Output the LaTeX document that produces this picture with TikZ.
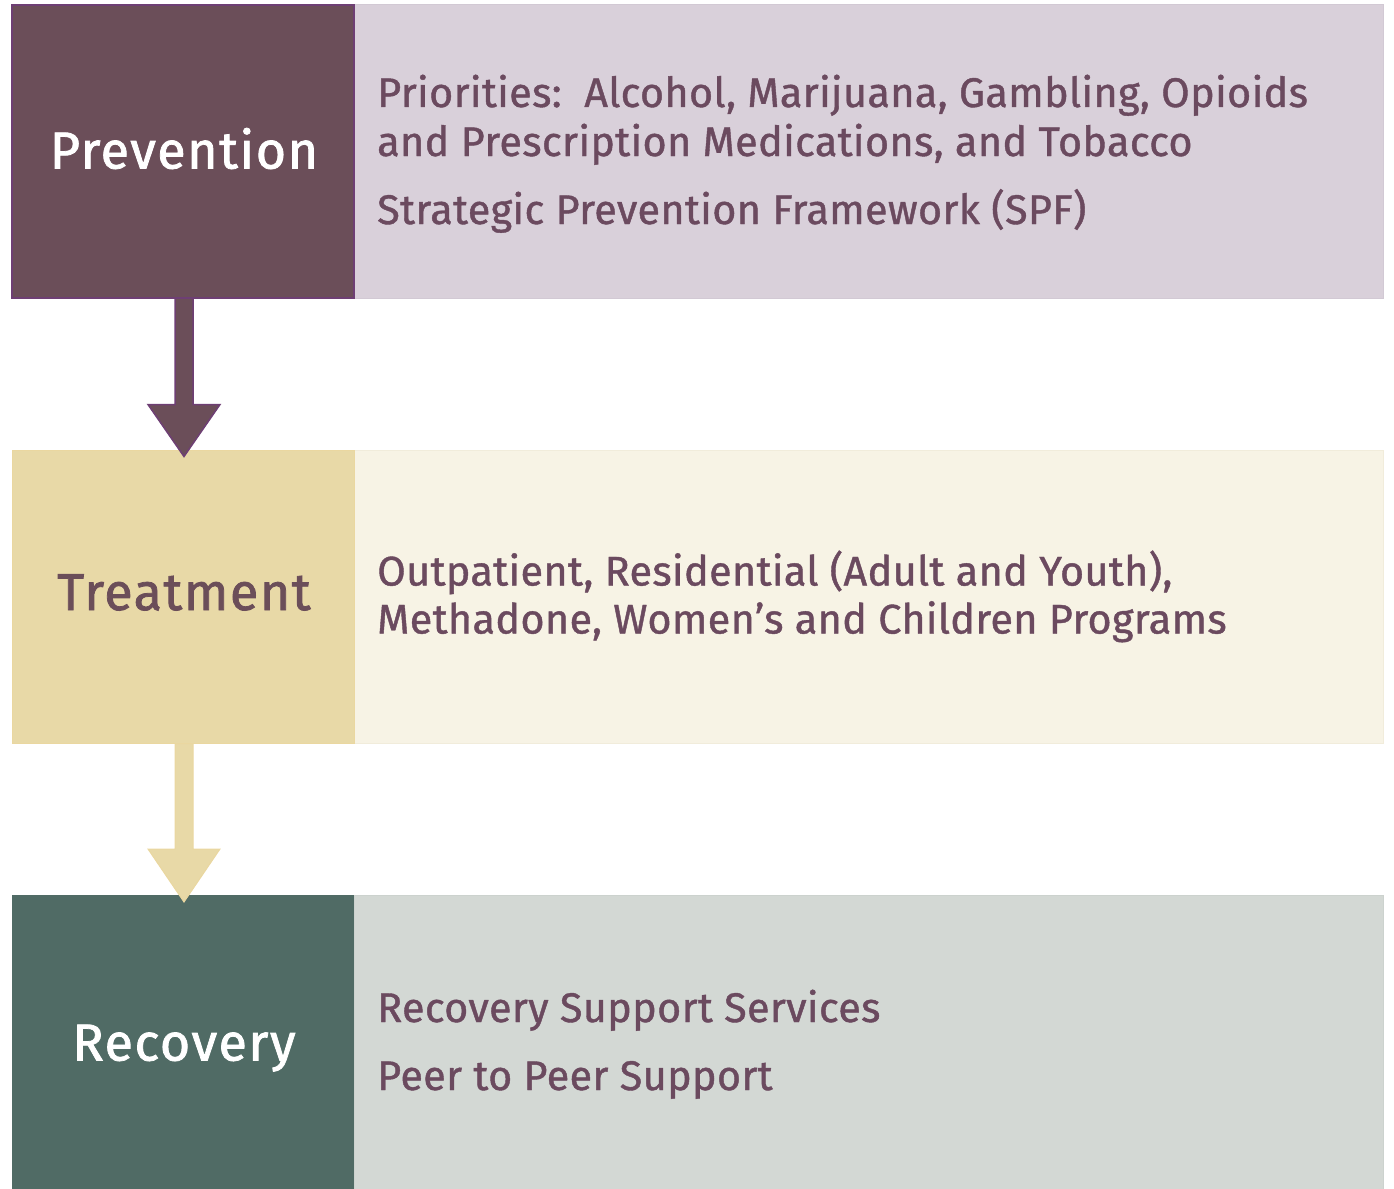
\documentclass[tikz,border=0pt]{standalone}
\usepackage{fontspec}
\setmainfont{Fira Sans}[FakeBold=1.0, LetterSpace=0.8]
\newfontfamily\titlefont{Fira Sans}[FakeBold=1.5, LetterSpace=3]
\usetikzlibrary{calc}

% palette
\definecolor{prevDark}{HTML}{6B4E59}
\definecolor{prevEdge}{HTML}{6E3F74}
\definecolor{prevLight}{HTML}{D9D0DA}
\definecolor{prevLightEdge}{HTML}{D2C9D4}
\definecolor{treatDark}{HTML}{E8D9A7}
\definecolor{treatEdge}{HTML}{EAD7A0}
\definecolor{treatLight}{HTML}{F7F3E5}
\definecolor{treatLightEdge}{HTML}{F1ECDB}
\definecolor{recDark}{HTML}{506B65}
\definecolor{recLight}{HTML}{D3D8D4}
\definecolor{recLightEdge}{HTML}{CCD2CE}
\definecolor{plum}{HTML}{6B4A5F}

\tikzset{
  stage/.style={rectangle, inner sep=0pt, outer sep=0pt,
    minimum width=342pt, minimum height=293pt},
  panel/.style={rectangle, inner sep=0pt, outer sep=0pt, line width=1pt,
    minimum width=1029pt, minimum height=293pt},
  stagetitle/.style={anchor=base, inner sep=0pt,
    font=\titlefont\fontsize{52}{62}\selectfont},
  itemtext/.style={anchor=base west, inner sep=0pt, text=plum,
    font=\fontsize{41.4}{48}\selectfont},
  flowarrow/.style={line width=1.5pt, line join=miter},
}

\begin{document}
\begin{tikzpicture}[x=1pt, y=-1pt]
\useasboundingbox (0,0) rectangle (1394,1188);

% light panels with the programme details
\node[panel, fill=prevLight, draw=prevLightEdge]   (prevP)  at (868.5,151.5) {};
\node[panel, fill=treatLight, draw=treatLightEdge] (treatP) at (868.5,597)   {};
\node[panel, fill=recLight, draw=recLightEdge, minimum height=295pt] (recP) at (868.5,1042.5) {};

% stage boxes
\node[stage, fill=prevDark, draw=prevEdge, line width=1.5pt] (prev) at (183,151.5) {};
\node[stage, fill=treatDark, draw=treatEdge, line width=0.8pt] (treat) at (183,597) {};
\node[stage, fill=recDark, minimum height=295pt] (rec) at (183,1042.5) {};

% block arrows between stages
\draw[flowarrow, fill=prevDark, draw=prevEdge]
  ($(prev.south)+(-8,0)$) -- ($(treat.north)+(-8,-46)$) -- ($(treat.north)+(-35,-46)$)
  -- ($(treat.north)+(1,6)$) -- ($(treat.north)+(37,-46)$) -- ($(treat.north)+(10,-46)$)
  -- ($(prev.south)+(10,0)$) -- cycle;
\draw[flowarrow, fill=treatDark, draw=treatEdge, line width=1pt]
  ($(treat.south)+(-8,0)$) -- ($(rec.north)+(-8,-46)$) -- ($(rec.north)+(-35,-46)$)
  -- ($(rec.north)+(1,7)$) -- ($(rec.north)+(37,-46)$) -- ($(rec.north)+(10,-46)$)
  -- ($(treat.south)+(10,0)$) -- cycle;

% stage titles
\node[stagetitle, text=white] (prevT)  at ($(prev.center)+(1,17)$)  {Prevention};
\node[stagetitle, text=prevDark] (treatT) at ($(treat.center)+(1,13)$) {Treatment};
\node[stagetitle, text=white] (recT)   at ($(rec.center)+(1,18)$)   {Recovery};

% programme details
\node[itemtext] (p1) at ($(prevP.north west)+(23,102)$) {Priorities:\ \ Alcohol, Marijuana, Gambling, Opioids};
\node[itemtext] (p2) at ($(prevP.north west)+(23,151)$) {and Prescription Medications, and Tobacco};
\node[itemtext] (p3) at ($(prevP.north west)+(23,219)$) {Strategic Prevention Framework (SPF)};

\node[itemtext] (t1) at ($(treatP.north west)+(23,135)$) {Outpatient, Residential (Adult and Youth),};
\node[itemtext] (t2) at ($(treatP.north west)+(23,183)$) {Methadone, Women’s and Children Programs};

\node[itemtext] (r1) at ($(recP.north west)+(23,127)$) {Recovery Support Services};
\node[itemtext] (r2) at ($(recP.north west)+(23,195)$) {Peer to Peer Support};
\end{tikzpicture}
\end{document}
